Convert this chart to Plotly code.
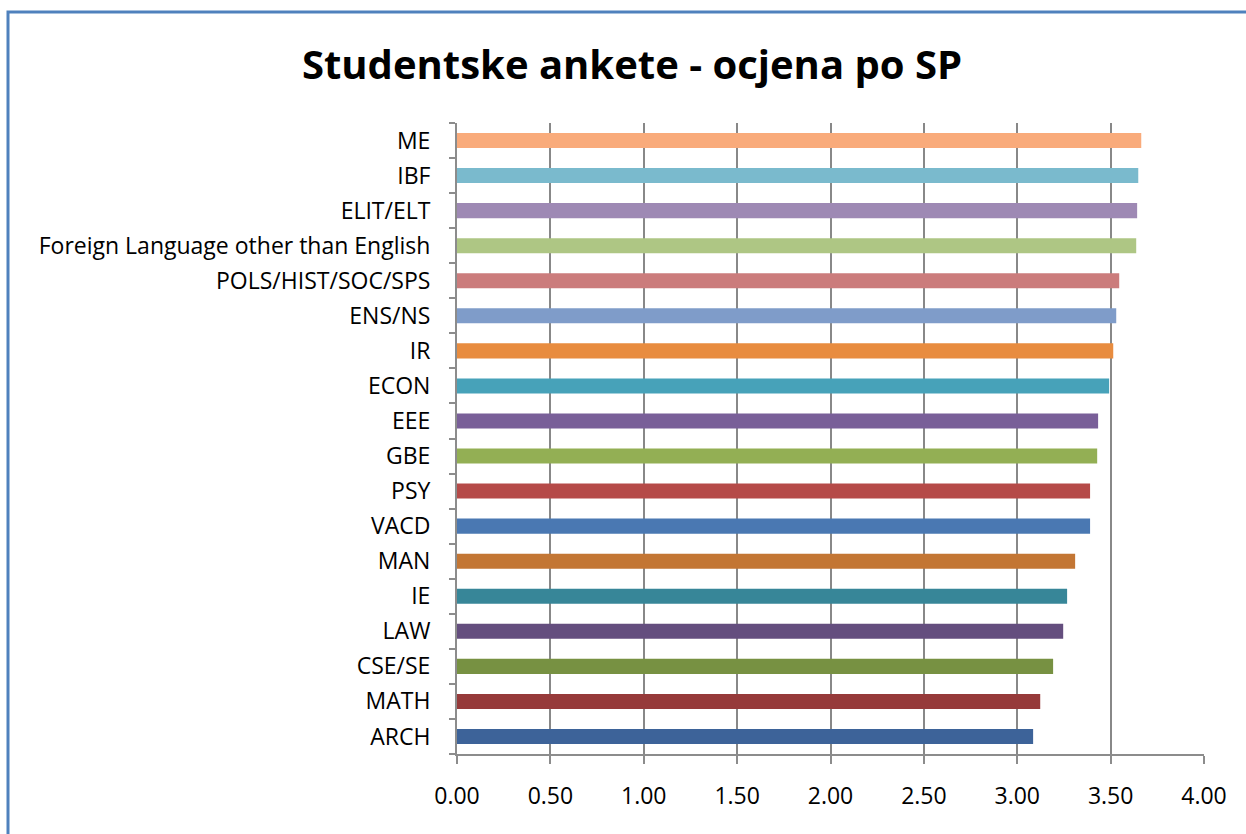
import plotly.graph_objects as go

categories = ["ARCH", "MATH", "CSE/SE", "LAW", "IE", "MAN", "VACD", "PSY", "GBE", "EEE",
              "ECON", "IR", "ENS/NS", "POLS/HIST/SOC/SPS", "Foreign Language other than English",
              "ELIT/ELT", "IBF", "ME"]
values = [3.085, 3.123, 3.192, 3.246, 3.267, 3.310, 3.390, 3.390, 3.428, 3.433,
          3.492, 3.514, 3.530, 3.546, 3.637, 3.642, 3.648, 3.664]
colors = ["#3D6399", "#963A3A", "#779142", "#644E7E", "#378698", "#C37634", "#4A78B2",
          "#B54A48", "#93AF54", "#795F98", "#47A2B9", "#E88C3F", "#7F9CC9", "#CB7C7C",
          "#AEC684", "#9E89B4", "#7ABACD", "#F9AB7B"]
x_ticks = [0, 0.5, 1.0, 1.5, 2.0, 2.5, 3.0, 3.5, 4.0]
title_text = "Studentske ankete - ocjena po SP"

FONT = "Open Sans"

fig = go.Figure(go.Bar(
    y=categories, x=values, orientation="h",
    marker=dict(color=colors, line=dict(width=0)),
    width=0.43,
))

L, R, T, B = 457, 42, 123, 80
W, H = 1246, 834
pw = W - L - R
ph = H - T - B

fig.update_layout(
    width=W, height=H,
    margin=dict(l=L, r=R, t=T, b=B),
    paper_bgcolor="white", plot_bgcolor="white",
    showlegend=False,
    title=dict(text="<b>" + title_text + "</b>", x=632 / W, xanchor="center",
               y=1 - 65 / H, yanchor="middle",
               font=dict(family=FONT, size=40, color="black")),
    xaxis=dict(range=[0, 4], tickvals=x_ticks, ticktext=[f"{v:.2f}" for v in x_ticks],
               showgrid=True, gridcolor="#888888", gridwidth=2,
               showline=True, linecolor="#8C8C8C", linewidth=2,
               ticks="outside", ticklen=8, tickcolor="#8C8C8C", tickwidth=2,
               ticklabelstandoff=12,
               tickfont=dict(family=FONT, size=23, color="black"),
               zeroline=False, fixedrange=True),
    yaxis=dict(type="category", categoryorder="array", categoryarray=categories,
               showgrid=False, showline=True, linecolor="#8C8C8C", linewidth=2,
               ticks="outside", ticklen=6, tickcolor="#8C8C8C", tickwidth=2,
               tickson="boundaries", ticklabelstandoff=20,
               tickfont=dict(family=FONT, size=23, color="black"),
               fixedrange=True),
)

# outer chart border (left and top edges visible)
fig.add_shape(type="rect", xref="paper", yref="paper",
              x0=(8 - L) / pw, x1=(W + 20 - L) / pw,
              y0=-(H + 20 - T - ph) / ph, y1=(H - 12 - B) / ph,
              line=dict(color="#4F81BD", width=3), layer="above")

fig.write_html("out.html", config={"displayModeBar": False},
               post_script="document.body.style.margin='0px';document.body.style.padding='0px';")
